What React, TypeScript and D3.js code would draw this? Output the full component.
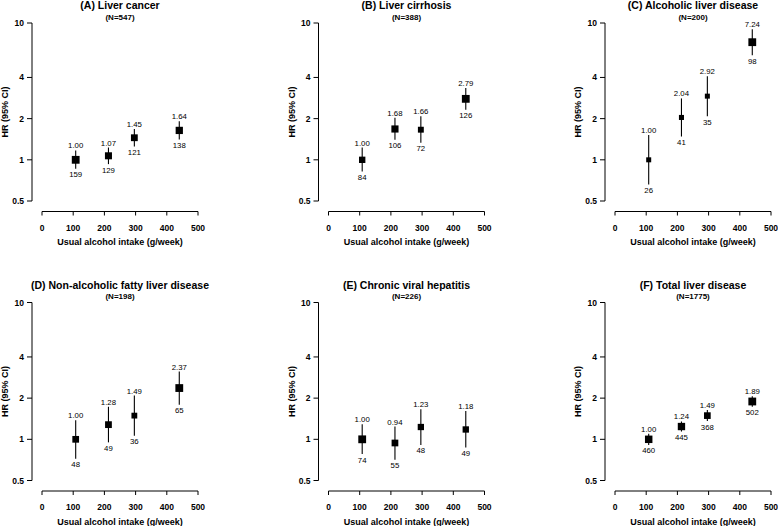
import React from "react";
import * as d3 from "d3";

const titles = [
  "(A) Liver cancer",
  "(B) Liver cirrhosis",
  "(C) Alcoholic liver disease",
  "(D) Non-alcoholic fatty liver disease",
  "(E) Chronic viral hepatitis",
  "(F) Total liver disease",
];
const totals = ["(N=547)", "(N=388)", "(N=200)", "(N=198)", "(N=226)", "(N=1775)"];

const intake = [108, 213, 296, 440];

const hrA = [1.0, 1.07, 1.45, 1.64];
const loA = [0.86, 0.93, 1.25, 1.41];
const hiA = [1.17, 1.23, 1.68, 1.91];
const casesA = [159, 129, 121, 138];

const hrB = [1.0, 1.68, 1.66, 2.79];
const loB = [0.82, 1.4, 1.33, 2.32];
const hiB = [1.23, 2.03, 2.08, 3.35];
const casesB = [84, 106, 72, 126];

const hrC = [1.0, 2.04, 2.92, 7.24];
const loC = [0.66, 1.48, 2.08, 5.8];
const hiC = [1.52, 2.81, 4.08, 9.0];
const casesC = [26, 41, 35, 98];

const hrD = [1.0, 1.28, 1.49, 2.37];
const loD = [0.72, 0.95, 1.06, 1.79];
const hiD = [1.38, 1.73, 2.09, 3.13];
const casesD = [48, 49, 36, 65];

const hrE = [1.0, 0.94, 1.23, 1.18];
const loE = [0.78, 0.71, 0.91, 0.87];
const hiE = [1.29, 1.24, 1.66, 1.61];
const casesE = [74, 55, 48, 49];

const hrF = [1.0, 1.24, 1.49, 1.89];
const loF = [0.91, 1.14, 1.36, 1.73];
const hiF = [1.1, 1.35, 1.64, 2.06];
const casesF = [460, 445, 368, 502];

const xTicks = [0, 100, 200, 300, 400, 500];
const yTicks = [0.5, 1, 2, 4, 10];

const panels = [
  { hr: hrA, lo: loA, hi: hiA, cases: casesA },
  { hr: hrB, lo: loB, hi: hiB, cases: casesB },
  { hr: hrC, lo: loC, hi: hiC, cases: casesC },
  { hr: hrD, lo: loD, hi: hiD, cases: casesD },
  { hr: hrE, lo: loE, hi: hiE, cases: casesE },
  { hr: hrF, lo: loF, hi: hiF, cases: casesF },
];

const FONT = "'Liberation Sans', Arial, sans-serif";

function Panel({ i }: { i: number }) {
  const col = i % 3;
  const row = Math.floor(i / 3);
  const ox = col * 286.5;
  const oy = row * 279.5;
  const p = panels[i];
  const x = d3.scaleLinear().domain([0, 500]).range([ox + 42, ox + 198]);
  const y = d3.scaleLog().domain([0.5, 10]).range([oy + 201, oy + 23]);
  const yAxisX = ox + 32;
  const xAxisY = oy + 211.5;
  const maxCases = d3.max(p.cases) as number;
  const size = d3.scaleSqrt().domain([0, maxCases]).range([0, 7.8]);
  const cx = (x(0) + x(500)) / 2;
  return (
    <g>
      <text x={cx} y={oy + 9} textAnchor="middle" fontSize={10.5} fontWeight="bold" fontFamily={FONT}>
        {titles[i]}
      </text>
      <text x={cx} y={oy + 19.5} textAnchor="middle" fontSize={8} fontWeight="bold" fontFamily={FONT}>
        {totals[i]}
      </text>
      <line x1={yAxisX} x2={yAxisX} y1={y(10)} y2={y(0.5)} stroke="#000" strokeWidth={1} />
      {yTicks.map((t) => (
        <g key={"y" + t}>
          <line x1={yAxisX - 5} x2={yAxisX} y1={y(t)} y2={y(t)} stroke="#000" strokeWidth={1} />
          <text x={yAxisX - 8} y={y(t) + 3} textAnchor="end" fontSize={8.5} fontWeight="bold" fontFamily={FONT}>
            {String(t)}
          </text>
        </g>
      ))}
      <text
        transform={`translate(${yAxisX - 24},${y(Math.sqrt(0.5 * 10))}) rotate(-90)`}
        textAnchor="middle"
        fontSize={9}
        fontWeight="bold"
        fontFamily={FONT}
      >
        HR (95% CI)
      </text>
      <line x1={x(0)} x2={x(500)} y1={xAxisY} y2={xAxisY} stroke="#000" strokeWidth={1} />
      {xTicks.map((t) => (
        <g key={"x" + t}>
          <line x1={x(t)} x2={x(t)} y1={xAxisY} y2={xAxisY + 4} stroke="#000" strokeWidth={1} />
          <text x={x(t)} y={xAxisY + 19} textAnchor="middle" fontSize={8.5} fontWeight="bold" fontFamily={FONT}>
            {t}
          </text>
        </g>
      ))}
      <text x={cx} y={xAxisY + 33.5} textAnchor="middle" fontSize={9} fontWeight="bold" fontFamily={FONT}>
        Usual alcohol intake (g/week)
      </text>
      {p.hr.map((h, j) => {
        const px = x(intake[j]);
        const s = Math.max(5, size(p.cases[j]));
        return (
          <g key={"p" + j}>
            <line x1={px} x2={px} y1={y(p.lo[j])} y2={y(p.hi[j])} stroke="#000" strokeWidth={1.1} />
            <rect x={px - s / 2} y={y(h) - s / 2} width={s} height={s} fill="#000" />
            <text x={px} y={y(p.hi[j]) - 2} textAnchor="middle" fontSize={7.8} fill="#000" fontFamily={FONT}>
              {h.toFixed(2)}
            </text>
            <text x={px} y={y(p.lo[j]) + 8.5} textAnchor="middle" fontSize={7.8} fill="#000" fontFamily={FONT}>
              {p.cases[j]}
            </text>
          </g>
        );
      })}
    </g>
  );
}

export default function App() {
  return (
    <svg width={778} height={526} style={{ position: "absolute", left: 0, top: 0, background: "#fff" }}>
      <rect width={778} height={526} fill="#fff" />
      {titles.map((_, i) => (
        <Panel key={i} i={i} />
      ))}
    </svg>
  );
}
